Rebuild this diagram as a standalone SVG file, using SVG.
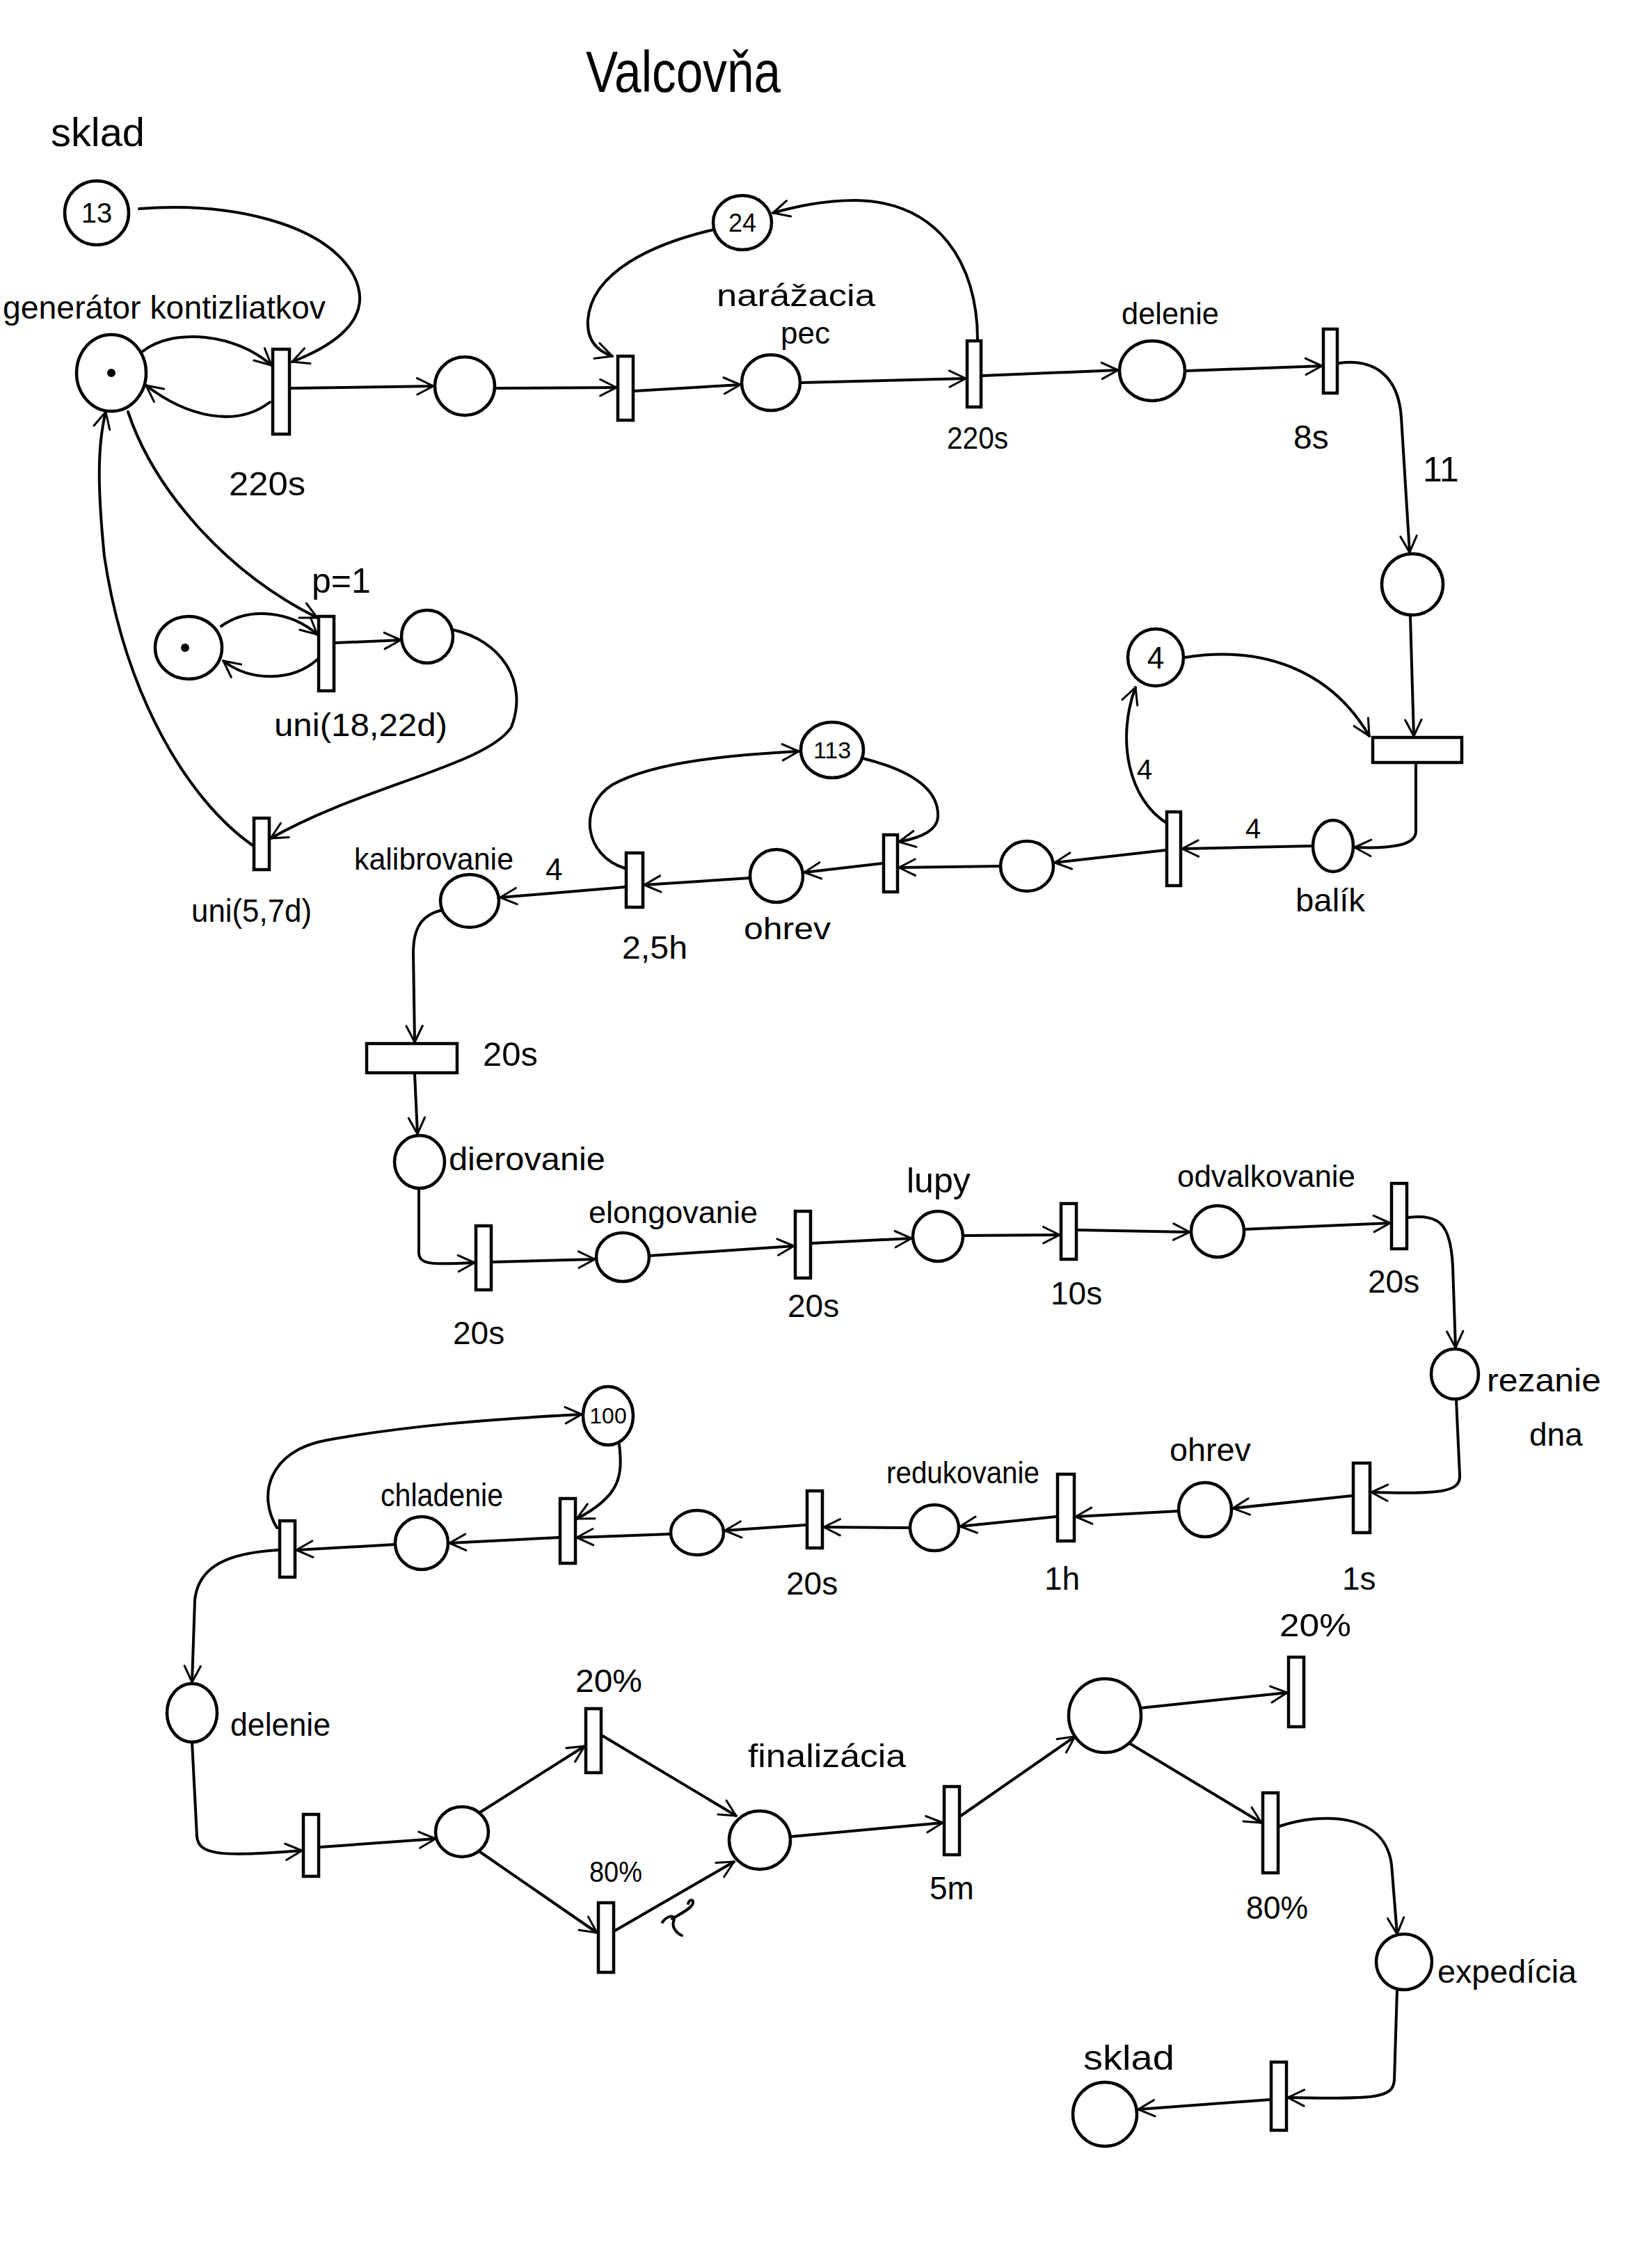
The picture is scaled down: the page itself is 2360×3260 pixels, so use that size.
<svg xmlns="http://www.w3.org/2000/svg" width="2360" height="3260" viewBox="0 0 2360 3260">
<defs>
<marker id="ah" viewBox="0 0 12 12" markerWidth="28" markerHeight="28" refX="11" refY="6" orient="auto" markerUnits="userSpaceOnUse">
<path d="M1,1 L11,6 L1,11" fill="none" stroke="#000" stroke-width="1.3" stroke-linecap="round" stroke-linejoin="round"/>
</marker>
<style>
.pl{fill:#fff;stroke:#000;stroke-width:4.5}
.tr{fill:#fff;stroke:#000;stroke-width:4.5}
.tok{fill:#000}
.c{fill:none;stroke:#000;stroke-width:4;marker-end:url(#ah);stroke-linecap:round}
.t{font-family:"Liberation Sans",Arial,sans-serif;font-size:46px;fill:#000}
.in{font-family:"Liberation Sans",Arial,sans-serif;font-size:36px;fill:#000;text-anchor:middle}
</style>
</defs>
<rect width="2360" height="3260" fill="#fff"/>

<g id="labels">
<text class="t" x="982" y="132" style="font-size:84px" text-anchor="middle" textLength="280" lengthAdjust="spacingAndGlyphs">Valcovňa</text>
<text class="t" x="73" y="210" style="font-size:58px" textLength="135" lengthAdjust="spacingAndGlyphs">sklad</text>
<text class="t" x="4" y="458" textLength="464" lengthAdjust="spacingAndGlyphs">generátor kontizliatkov</text>
<text class="t" x="329" y="712" style="font-size:48px" textLength="110" lengthAdjust="spacingAndGlyphs">220s</text>
<text class="t" x="1030" y="440" style="font-size:44px" textLength="228" lengthAdjust="spacingAndGlyphs">narážacia</text>
<text class="t" x="1122" y="494" style="font-size:44px">pec</text>
<text class="t" x="1361" y="645" style="font-size:44px" textLength="88" lengthAdjust="spacingAndGlyphs">220s</text>
<text class="t" x="1612" y="466" style="font-size:44px" textLength="140" lengthAdjust="spacingAndGlyphs">delenie</text>
<text class="t" x="1859" y="645" style="font-size:48px">8s</text>
<text class="t" x="2045" y="692" style="font-size:50px">11</text>
<text class="t" x="1790" y="1205" style="font-size:40px">4</text>
<text class="t" x="1634" y="1120" style="font-size:40px">4</text>
<text class="t" x="1862" y="1310" textLength="100" lengthAdjust="spacingAndGlyphs">balík</text>
<text class="t" x="1069" y="1350" style="font-size:44px" textLength="125" lengthAdjust="spacingAndGlyphs">ohrev</text>
<text class="t" x="894" y="1378" textLength="94" lengthAdjust="spacingAndGlyphs">2,5h</text>
<text class="t" x="784" y="1265" style="font-size:44px">4</text>
<text class="t" x="509" y="1250" style="font-size:44px" textLength="229" lengthAdjust="spacingAndGlyphs">kalibrovanie</text>
<text class="t" x="694" y="1532" style="font-size:48px" textLength="79" lengthAdjust="spacingAndGlyphs">20s</text>
<text class="t" x="645" y="1682" textLength="225" lengthAdjust="spacingAndGlyphs">dierovanie</text>
<text class="t" x="651" y="1932">20s</text>
<text class="t" x="846" y="1758" style="font-size:44px" textLength="243" lengthAdjust="spacingAndGlyphs">elongovanie</text>
<text class="t" x="1132" y="1893">20s</text>
<text class="t" x="1303" y="1714" style="font-size:50px">lupy</text>
<text class="t" x="1510" y="1875">10s</text>
<text class="t" x="1692" y="1706" style="font-size:44px" textLength="256" lengthAdjust="spacingAndGlyphs">odvalkovanie</text>
<text class="t" x="1966" y="1858">20s</text>
<text class="t" x="2137" y="2000" textLength="164" lengthAdjust="spacingAndGlyphs">rezanie</text>
<text class="t" x="2198" y="2078">dna</text>
<text class="t" x="1929" y="2285">1s</text>
<text class="t" x="1681" y="2100" textLength="117" lengthAdjust="spacingAndGlyphs">ohrev</text>
<text class="t" x="1501" y="2285">1h</text>
<text class="t" x="1274" y="2132" style="font-size:44px" textLength="220" lengthAdjust="spacingAndGlyphs">redukovanie</text>
<text class="t" x="1130" y="2292">20s</text>
<text class="t" x="547" y="2165" textLength="176" lengthAdjust="spacingAndGlyphs">chladenie</text>
<text class="t" x="331" y="2495" textLength="144" lengthAdjust="spacingAndGlyphs">delenie</text>
<text class="t" x="827" y="2432" textLength="96" lengthAdjust="spacingAndGlyphs">20%</text>
<text class="t" x="847" y="2705" style="font-size:42px" textLength="76" lengthAdjust="spacingAndGlyphs">80%</text>
<text class="t" x="1075" y="2540" textLength="227" lengthAdjust="spacingAndGlyphs">finalizácia</text>
<text class="t" x="1336" y="2730">5m</text>
<text class="t" x="1839" y="2352" textLength="103" lengthAdjust="spacingAndGlyphs">20%</text>
<text class="t" x="1791" y="2758" textLength="89" lengthAdjust="spacingAndGlyphs">80%</text>
<text class="t" x="2066" y="2850" textLength="200" lengthAdjust="spacingAndGlyphs">expedícia</text>
<text class="t" x="1557" y="2975" style="font-size:50px" textLength="131" lengthAdjust="spacingAndGlyphs">sklad</text>
<text class="t" x="448" y="852" style="font-size:50px">p=1</text>
<text class="t" x="394" y="1058" textLength="249" lengthAdjust="spacingAndGlyphs">uni(18,22d)</text>
<text class="t" x="275" y="1325" textLength="173" lengthAdjust="spacingAndGlyphs">uni(5,7d)</text>
</g>

<g id="connectors">
<path class="c" d="M205,505 C250,470 340,480 390,525"/>
<path class="c" d="M388,578 C340,615 270,600 210,554"/>
<path class="c" d="M200,300 C330,290 460,320 505,390 C535,440 510,485 420,520"/>
<path class="c" d="M418,558 L623,555"/>
<path class="c" d="M713,558 L886,557"/>
<path class="c" d="M1026,330 C940,350 850,390 845,460 C843,490 860,505 880,512"/>
<path class="c" d="M912,562 L1064,553"/>
<path class="c" d="M1152,550 L1388,544"/>
<path class="c" d="M1405,488 C1405,380 1350,290 1230,288 C1180,288 1140,298 1111,306"/>
<path class="c" d="M1412,540 L1607,532"/>
<path class="c" d="M1705,533 L1900,526"/>
<path class="c" d="M1924,522 C1975,515 2010,540 2014,600 L2026,794"/>
<path class="c" d="M2027,886 L2032,1058"/>
<path class="c" d="M1703,945 C1830,925 1920,975 1968,1058"/>
<path class="c" d="M2035,1098 L2035,1195 C2035,1215 2000,1220 1947,1218"/>
<path class="c" d="M1886,1216 L1699,1220"/>
<path class="c" d="M1680,1185 C1620,1150 1605,1060 1632,988"/>
<path class="c" d="M1675,1222 L1516,1240"/>
<path class="c" d="M1437,1245 L1292,1247"/>
<path class="c" d="M1240,1090 C1320,1110 1350,1140 1348,1175 C1346,1195 1320,1205 1292,1210"/>
<path class="c" d="M1268,1241 L1156,1254"/>
<path class="c" d="M1078,1262 L926,1272"/>
<path class="c" d="M898,1248 C840,1230 830,1160 880,1128 C940,1095 1050,1085 1148,1080"/>
<path class="c" d="M898,1275 L719,1290"/>
<path class="c" d="M636,1308 C605,1315 594,1335 594,1370 L596,1498"/>
<path class="c" d="M596,1544 L600,1630"/>
<path class="c" d="M602,1710 L602,1800 C602,1818 620,1818 682,1815"/>
<path class="c" d="M708,1814 L855,1810"/>
<path class="c" d="M933,1805 L1141,1791"/>
<path class="c" d="M1167,1787 L1310,1780"/>
<path class="c" d="M1384,1776 L1523,1775"/>
<path class="c" d="M1549,1768 L1710,1771"/>
<path class="c" d="M1788,1767 L1998,1758"/>
<path class="c" d="M2024,1750 C2070,1745 2085,1760 2088,1820 L2092,1937"/>
<path class="c" d="M2093,2012 L2098,2120 C2100,2145 2070,2148 1971,2145"/>
<path class="c" d="M1943,2150 L1772,2168"/>
<path class="c" d="M1694,2172 L1546,2180"/>
<path class="c" d="M1518,2180 L1380,2194"/>
<path class="c" d="M1308,2196 L1184,2195"/>
<path class="c" d="M1158,2192 L1042,2200"/>
<path class="c" d="M964,2205 L829,2210"/>
<path class="c" d="M890,2076 C895,2120 893,2150 829,2183"/>
<path class="c" d="M803,2210 L646,2218"/>
<path class="c" d="M568,2220 L426,2228"/>
<path class="c" d="M398,2196 C370,2150 385,2085 470,2070 C580,2050 700,2040 836,2033"/>
<path class="c" d="M400,2228 C330,2232 285,2250 280,2300 L276,2418"/>
<path class="c" d="M276,2504 L283,2640 C286,2665 310,2670 434,2660"/>
<path class="c" d="M460,2655 L626,2643"/>
<path class="c" d="M690,2605 L840,2510"/>
<path class="c" d="M690,2662 L858,2778"/>
<path class="c" d="M866,2495 L1058,2610"/>
<path class="c" d="M884,2775 L1055,2676"/>
<path class="c" d="M1136,2640 L1355,2620"/>
<path class="c" d="M1381,2610 L1545,2496"/>
<path class="c" d="M1640,2455 L1850,2433"/>
<path class="c" d="M1622,2505 L1813,2620"/>
<path class="c" d="M1839,2625 C1900,2605 1990,2605 2000,2680 L2008,2780"/>
<path class="c" d="M2008,2860 L2004,2990 C2002,3015 1980,3018 1851,3015"/>
<path class="c" d="M1825,3018 L1636,3032"/>
<path class="c" d="M184,592 C220,700 320,820 456,888"/>
<path class="c" d="M318,900 C360,870 420,880 456,912"/>
<path class="c" d="M456,948 C420,980 360,980 321,950"/>
<path class="c" d="M482,924 L576,920"/>
<path class="c" d="M650,905 C720,920 760,980 735,1045 C700,1100 520,1130 389,1205"/>
<path class="c" d="M363,1215 C270,1150 180,1000 150,800 C140,700 140,640 152,592"/>
<path d="M952,2763 C960,2752 972,2752 968,2762 C965,2772 975,2780 980,2782 M966,2758 C980,2750 990,2745 995,2738 C999,2731 992,2728 989,2736" fill="none" stroke="#000" stroke-width="4" stroke-linecap="round"/>
</g>

<g id="p_sklad_in"><ellipse class="pl" cx="139" cy="306" rx="46" ry="46"/><text class="in" x="139" y="320" style="font-size:40px">13</text></g>
<g id="p_generator"><ellipse class="pl" cx="160" cy="536" rx="50" ry="55"/><circle class="tok" cx="160" cy="536" r="6"/></g>
<g id="t1"><rect class="tr" x="392" y="502" width="24" height="122"/></g>
<g id="p2"><ellipse class="pl" cx="668" cy="555" rx="43" ry="42"/></g>
<g id="t2"><rect class="tr" x="888" y="512" width="22" height="92"/></g>
<g id="p_24"><ellipse class="pl" cx="1067" cy="320" rx="42" ry="39"/><text class="in" x="1067" y="333">24</text></g>
<g id="p_pec"><ellipse class="pl" cx="1108" cy="550" rx="42" ry="40"/></g>
<g id="t3"><rect class="tr" x="1390" y="490" width="20" height="95"/></g>
<g id="p_delenie1"><ellipse class="pl" cx="1656" cy="533" rx="47" ry="43"/></g>
<g id="t4"><rect class="tr" x="1902" y="473" width="20" height="92"/></g>
<g id="p5"><ellipse class="pl" cx="2030" cy="840" rx="44" ry="44"/></g>
<g id="t5"><rect class="tr" x="1973" y="1060" width="128" height="36"/></g>
<g id="p_4"><ellipse class="pl" cx="1661" cy="945" rx="40" ry="41"/><text class="in" x="1661" y="961" style="font-size:44px">4</text></g>
<g id="p_balik"><ellipse class="pl" cx="1916" cy="1216" rx="29" ry="37"/></g>
<g id="t6"><rect class="tr" x="1677" y="1167" width="20" height="106"/></g>
<g id="p7"><ellipse class="pl" cx="1476" cy="1245" rx="38" ry="36"/></g>
<g id="t7"><rect class="tr" x="1270" y="1200" width="20" height="82"/></g>
<g id="p_113"><ellipse class="pl" cx="1196" cy="1078" rx="45" ry="40"/><text class="in" x="1196" y="1090" style="font-size:34px">113</text></g>
<g id="p_ohrev1"><ellipse class="pl" cx="1116" cy="1259" rx="38" ry="38"/></g>
<g id="t8"><rect class="tr" x="900" y="1226" width="24" height="78"/></g>
<g id="p_kalibrovanie"><ellipse class="pl" cx="675" cy="1295" rx="42" ry="38"/></g>
<g id="t9"><rect class="tr" x="527" y="1500" width="130" height="42"/></g>
<g id="p_dierovanie"><ellipse class="pl" cx="603" cy="1670" rx="36" ry="38"/></g>
<g id="t10"><rect class="tr" x="684" y="1762" width="22" height="92"/></g>
<g id="p_elongovanie"><ellipse class="pl" cx="895" cy="1807" rx="38" ry="35"/></g>
<g id="t11"><rect class="tr" x="1143" y="1741" width="22" height="96"/></g>
<g id="p_lupy"><ellipse class="pl" cx="1348" cy="1777" rx="36" ry="36"/></g>
<g id="t12"><rect class="tr" x="1525" y="1730" width="22" height="80"/></g>
<g id="p_odvalkovanie"><ellipse class="pl" cx="1750" cy="1770" rx="38" ry="37"/></g>
<g id="t13"><rect class="tr" x="2000" y="1701" width="22" height="94"/></g>
<g id="p_rezanie"><ellipse class="pl" cx="2091" cy="1975" rx="34" ry="36"/></g>
<g id="t14"><rect class="tr" x="1945" y="2103" width="24" height="100"/></g>
<g id="p_ohrev2"><ellipse class="pl" cx="1732" cy="2170" rx="38" ry="39"/></g>
<g id="t15"><rect class="tr" x="1520" y="2119" width="24" height="96"/></g>
<g id="p_redukovanie"><ellipse class="pl" cx="1343" cy="2196" rx="35" ry="33"/></g>
<g id="t16"><rect class="tr" x="1160" y="2143" width="22" height="82"/></g>
<g id="p16"><ellipse class="pl" cx="1002" cy="2203" rx="38" ry="32"/></g>
<g id="t17"><rect class="tr" x="805" y="2154" width="22" height="93"/></g>
<g id="p_100"><ellipse class="pl" cx="874" cy="2035" rx="36" ry="42"/><text class="in" x="874" y="2046" style="font-size:32px">100</text></g>
<g id="p_chladenie"><ellipse class="pl" cx="606" cy="2218" rx="38" ry="38"/></g>
<g id="t18"><rect class="tr" x="402" y="2186" width="22" height="81"/></g>
<g id="p_delenie2"><ellipse class="pl" cx="276" cy="2462" rx="36" ry="42"/></g>
<g id="t19"><rect class="tr" x="436" y="2608" width="22" height="89"/></g>
<g id="p19"><ellipse class="pl" cx="664" cy="2633" rx="38" ry="36"/></g>
<g id="t20"><rect class="tr" x="842" y="2456" width="22" height="92"/></g>
<g id="t21"><rect class="tr" x="860" y="2735" width="22" height="100"/></g>
<g id="p_finalizacia"><ellipse class="pl" cx="1092" cy="2645" rx="44" ry="42"/></g>
<g id="t22"><rect class="tr" x="1357" y="2568" width="22" height="98"/></g>
<g id="p22"><ellipse class="pl" cx="1588" cy="2466" rx="52" ry="53"/></g>
<g id="t23"><rect class="tr" x="1852" y="2382" width="22" height="100"/></g>
<g id="t24"><rect class="tr" x="1815" y="2577" width="22" height="115"/></g>
<g id="p_expedicia"><ellipse class="pl" cx="2018" cy="2820" rx="40" ry="40"/></g>
<g id="t25"><rect class="tr" x="1827" y="2964" width="22" height="98"/></g>
<g id="p_sklad_out"><ellipse class="pl" cx="1588" cy="3039" rx="46" ry="46"/></g>
<g id="t_p"><rect class="tr" x="458" y="886" width="22" height="107"/></g>
<g id="p_token"><ellipse class="pl" cx="271" cy="931" rx="48" ry="45"/><circle class="tok" cx="266" cy="931" r="6"/></g>
<g id="p_tp"><ellipse class="pl" cx="614" cy="915" rx="37" ry="38"/></g>
<g id="t_u"><rect class="tr" x="365" y="1176" width="22" height="74"/></g>
</svg>
